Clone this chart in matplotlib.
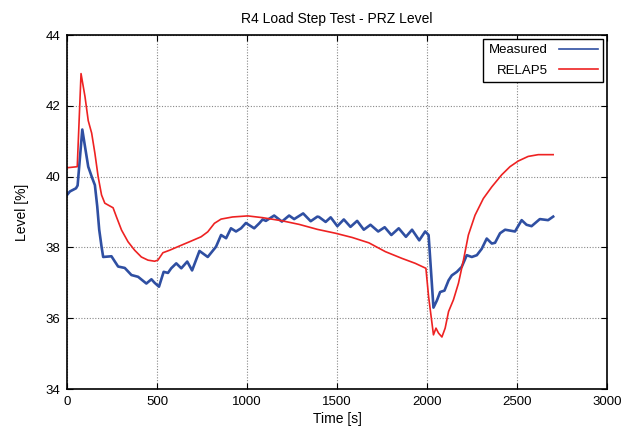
import matplotlib
matplotlib.use("Agg")
import matplotlib.pyplot as plt

plt.rcParams['font.family'] = ['Liberation Sans', 'DejaVu Sans']

meas_t = [0, 16, 50, 59, 85, 100, 118, 140, 155, 168, 179, 192, 201, 247, 266, 284, 321, 358, 395,
          441, 469, 487, 511, 537, 561, 579, 607, 635, 668, 695, 736, 755, 782, 828, 856, 884, 911,
          939, 967, 994, 1040, 1068, 1087, 1105, 1151, 1194, 1234, 1262, 1312, 1354, 1391, 1400,
          1437, 1465, 1502, 1538, 1575, 1612, 1649, 1686, 1729, 1765, 1802, 1843, 1883, 1917, 1957,
          1990, 2009, 2036, 2055, 2073, 2097, 2120, 2138, 2166, 2193, 2221, 2249, 2277, 2304, 2332,
          2360, 2378, 2406, 2434, 2489, 2526, 2553, 2581, 2627, 2673, 2701]
meas_v = [39.48, 39.58, 39.67, 39.75, 41.33, 40.85, 40.28, 39.96, 39.76, 39.16, 38.5, 38.02, 37.73,
          37.75, 37.6, 37.46, 37.42, 37.22, 37.17, 36.98, 37.1, 37.0, 36.89, 37.31, 37.28, 37.41,
          37.55, 37.41, 37.6, 37.35, 37.9, 37.83, 37.73, 38.02, 38.35, 38.26, 38.54, 38.45, 38.54,
          38.69, 38.54, 38.68, 38.79, 38.75, 38.9, 38.73, 38.9, 38.8, 38.96, 38.74, 38.87, 38.86,
          38.72, 38.85, 38.6, 38.79, 38.58, 38.75, 38.5, 38.64, 38.45, 38.57, 38.35, 38.54, 38.3,
          38.5, 38.2, 38.45, 38.35, 36.3, 36.5, 36.74, 36.78, 37.07, 37.21, 37.31, 37.45, 37.78,
          37.73, 37.78, 37.96, 38.25, 38.11, 38.13, 38.4, 38.5, 38.45, 38.77, 38.64, 38.6, 38.8,
          38.77, 38.87]

relap_t = [0, 57, 78, 100, 118, 137, 155, 173, 192, 210, 238, 256, 275, 303, 339, 376, 413, 450,
           487, 505, 533, 570, 625, 681, 745, 782, 819, 856, 920, 1004, 1087, 1197, 1290, 1391,
           1492, 1585, 1677, 1769, 1861, 1935, 1994, 2009, 2036, 2050, 2064, 2083, 2101, 2120,
           2147, 2175, 2203, 2230, 2267, 2313, 2360, 2415, 2461, 2507, 2562, 2618, 2701]
relap_v = [40.25, 40.28, 42.91, 42.26, 41.58, 41.23, 40.66, 40.0, 39.48, 39.25, 39.17, 39.12,
           38.86, 38.49, 38.16, 37.92, 37.73, 37.64, 37.61, 37.64, 37.85, 37.92, 38.04, 38.16,
           38.3, 38.44, 38.68, 38.8, 38.86, 38.89, 38.84, 38.75, 38.65, 38.51, 38.4, 38.28, 38.13,
           37.88, 37.69, 37.55, 37.41, 36.61, 35.53, 35.72, 35.58, 35.47, 35.72, 36.19, 36.52,
           36.99, 37.65, 38.35, 38.91, 39.38, 39.71, 40.05, 40.28, 40.44, 40.57, 40.62, 40.62]

xticks = [0, 500, 1000, 1500, 2000, 2500, 3000]
yticks = [34, 36, 38, 40, 42, 44]

fig = plt.figure(figsize=(6.32, 4.30), dpi=100)
ax = fig.add_axes([0.106, 0.0953, 0.8544, 0.8233])

ax.plot(meas_t, meas_v, color='#2f4fa2', lw=1.9, label='Measured')
ax.plot(relap_t, relap_v, color='#ee2222', lw=1.2, label='RELAP5')

ax.set_xlim(0, 3000)
ax.set_ylim(34, 44)
ax.set_xticks(xticks)
ax.set_yticks(yticks)
ax.tick_params(direction='in', top=True, right=True, labelsize=9.5, length=4, pad=5)
ax.grid(True, color='#888888', linestyle=(0, (1, 1.5)), lw=0.8)
for s in ax.spines.values():
    s.set_linewidth(1.2)

ax.set_xlabel('Time [s]', fontsize=10, labelpad=3)
ax.set_ylabel('Level [%]', fontsize=10, labelpad=12)
ax.set_title('R4 Load Step Test - PRZ Level', fontsize=10, pad=9)

leg = ax.legend(loc='upper right', markerfirst=False, fontsize=9.5, fancybox=False,
                framealpha=1, edgecolor='black', handlelength=2.9,
                borderaxespad=0.3, borderpad=0.4, labelspacing=0.6, handletextpad=0.9)
leg.get_frame().set_linewidth(1.0)
leg._legend_box.align = 'right'
for ln in leg.get_lines():
    ln.set_linewidth(1.2)

fig.savefig('out.png', dpi=100)
